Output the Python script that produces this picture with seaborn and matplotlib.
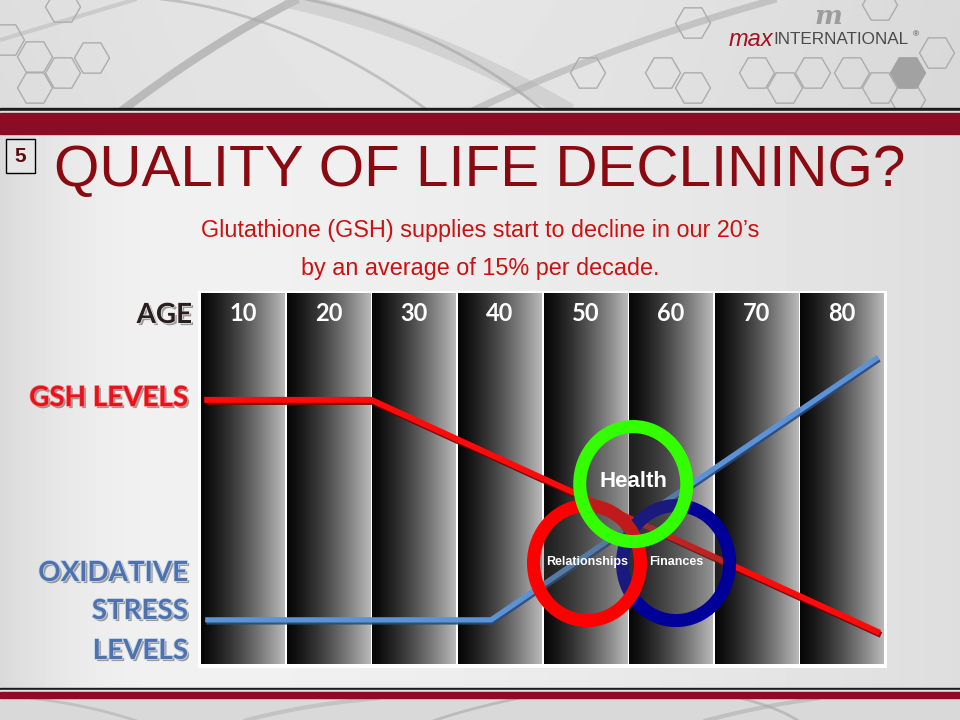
import numpy as np
import matplotlib.pyplot as plt
import seaborn as sns
import matplotlib.patheffects as pe
from matplotlib.patches import Ellipse, Rectangle, RegularPolygon

# data
decades = [10, 20, 30, 40, 50, 60, 70, 80]
gsh_age = [5.5, 25, 84.4]
gsh_level = [71.2, 71.2, 8.4]
oxid_age = [5.6, 39, 84.2]
oxid_level = [11.9, 11.9, 82.7]
ring_labels = ['Finances', 'Relationships', 'Health']
ring_age = [60.6, 50.2, 55.6]
ring_level = [27.2, 27.2, 48.5]

sns.set_theme(style='white')
plt.rcParams['font.family'] = ['Liberation Sans', 'DejaVu Sans']

fig = plt.figure(figsize=(9.6, 7.2), dpi=100)

# background layer in pixel coordinates
bg = fig.add_axes([0, 0, 1, 1])
bg.axis('off')
X, Y = np.meshgrid(np.linspace(0, 1, 240), np.linspace(0, 1, 180))
v = np.where(X < 0.18, 0.945 - 0.09 * ((0.18 - X) / 0.18) ** 2,
             0.945 - 0.075 * ((X - 0.18) / 0.82) ** 1.6)
bg.imshow(v, cmap='gray', vmin=0, vmax=1, extent=(0, 960, 720, 0),
          aspect='auto', interpolation='bilinear', zorder=0)
hv = 0.87 + 0.03 * np.sin(np.pi * X[:40] * 1.2) - 0.02 * Y[:40]
bg.imshow(hv, cmap='gray', vmin=0, vmax=1, extent=(0, 960, 108, 0),
          aspect='auto', interpolation='bilinear', zorder=0.5)
bg.add_patch(Rectangle((0, 698), 960, 22, color='#d9d9d9', zorder=0.5))

header_clip = Rectangle((0, 0), 960, 108, transform=bg.transData)
footer_clip = Rectangle((0, 698), 960, 22, transform=bg.transData)


def swoosh(p0, p1, p2, lw, color, alpha, clip):
    t = np.linspace(0, 1, 120)[:, None]
    pts = (1 - t) ** 2 * np.array(p0) + 2 * (1 - t) * t * np.array(p1) + t ** 2 * np.array(p2)
    ln, = bg.plot(pts[:, 0], pts[:, 1], lw=lw, color=color, alpha=alpha,
                  solid_capstyle='butt', zorder=1)
    ln.set_clip_path(clip)


swoosh((120, 112), (215, 40), (300, -2), 6, '#a0a0a0', 0.6, header_clip)
swoosh((150, -2), (290, 10), (430, 112), 2, '#a8a8a8', 0.6, header_clip)
swoosh((280, -2), (430, 30), (570, 112), 12, '#c0c0c0', 0.5, header_clip)
swoosh((300, -2), (440, 25), (545, 112), 2, '#999999', 0.5, header_clip)
swoosh((470, 112), (610, 45), (780, -2), 5, '#b0b0b0', 0.6, header_clip)
swoosh((0, 40), (60, 22), (140, -2), 3, '#bdbdbd', 0.6, header_clip)
swoosh((30, 698), (90, 705), (140, 722), 2, '#b0b0b0', 0.6, footer_clip)
swoosh((240, 722), (300, 705), (380, 698), 3, '#b5b5b5', 0.6, footer_clip)
swoosh((430, 722), (470, 708), (520, 698), 2, '#a8a8a8', 0.6, footer_clip)
swoosh((700, 722), (760, 706), (820, 698), 3, '#b0b0b0', 0.6, footer_clip)
swoosh((740, 698), (780, 708), (800, 722), 2, '#a8a8a8', 0.6, footer_clip)

hex_centers = [(63, 7), (35, 57), (92, 58), (63, 73), (35, 88), (7, 40),
               (693, 23), (588, 73), (663, 73), (693, 88), (757, 73), (785, 88),
               (813, 73), (852, 73), (880, 88), (937, 53), (908, 100), (880, 5)]
for cx, cy in hex_centers:
    h = RegularPolygon((cx, cy), 6, radius=17.5, orientation=np.pi / 6,
                       fill=False, edgecolor='#acacac', lw=1, zorder=1.5)
    bg.add_patch(h)
    h.set_clip_path(header_clip)
bg.add_patch(RegularPolygon((908, 73), 6, radius=17.5, orientation=np.pi / 6,
                            facecolor='#a2a2a2', edgecolor='#a2a2a2', zorder=1.6))

# logo
bg.text(828, 17, 'm', fontsize=19, family='DejaVu Serif', fontweight='bold',
        style='italic', color='#9c9c9c', ha='center', va='center', zorder=2)
bg.text(773, 40, 'max', fontsize=17, style='italic', color='#a3121f',
        ha='right', va='center', zorder=2)
bg.text(773, 40, 'INTERNATIONAL', fontsize=12.3, color='#4a4a4a',
        ha='left', va='center', zorder=2)
bg.text(913, 35, '®', fontsize=6, color='#4a4a4a', ha='left', va='center', zorder=2)

# bands
bg.add_patch(Rectangle((0, 108), 960, 3, color='#1c1c1c', zorder=2))
bg.add_patch(Rectangle((0, 111), 960, 2, color='#e0e0e0', zorder=2))
bg.add_patch(Rectangle((0, 113), 960, 21, color='#8c0b25', zorder=2))
bg.add_patch(Rectangle((0, 687.5), 960, 2.5, color='#1c1c1c', zorder=2))
bg.add_patch(Rectangle((0, 690), 960, 2, color='#e0e0e0', zorder=2))
bg.add_patch(Rectangle((0, 692), 960, 6, color='#8c0b25', zorder=2))

# title area
bg.add_patch(Rectangle((6, 139), 29, 34, facecolor='#e6e6e6', edgecolor='black', lw=1, zorder=2))
bg.text(20.5, 156.5, '5', fontsize=15, fontweight='bold', color='#5c0c0c',
        ha='center', va='center', zorder=3)
bg.text(480, 171, 'QUALITY OF LIFE DECLINING?', fontsize=42, color='#8b0a12',
        ha='center', va='center', zorder=3)
bg.text(480, 231, 'Glutathione (GSH) supplies start to decline in our 20’s',
        fontsize=16.8, color='#cc1111', ha='center', va='center', zorder=3)
bg.text(480, 268, 'by an average of 15% per decade.',
        fontsize=16.8, color='#cc1111', ha='center', va='center', zorder=3)

# row labels on the left
shadow = pe.SimplePatchShadow(offset=(1.5, -1.5), shadow_rgbFace='#555555', alpha=0.55)
lab_kw = dict(family=['Lato', 'DejaVu Sans'], fontweight='bold', fontsize=20,
              ha='right', va='center', zorder=3)
bg.text(192, 315, 'AGE', color='#2a1f1f',
        path_effects=[shadow, pe.Stroke(linewidth=1, foreground='#f0f0f0'), pe.Normal()], **lab_kw)
bg.text(188, 398, 'GSH LEVELS', color='#e3141e',
        path_effects=[shadow, pe.Stroke(linewidth=1, foreground='#ff8080'), pe.Normal()], **lab_kw)
for txt, yy in [('OXIDATIVE', 573), ('STRESS', 611), ('LEVELS', 651)]:
    bg.text(188, yy, txt, color='#4d72ad',
            path_effects=[shadow, pe.Stroke(linewidth=1.2, foreground='#c9d6ea'), pe.Normal()], **lab_kw)

bg.add_patch(Rectangle((198, 291), 689, 377, facecolor='white', edgecolor='none', zorder=2))
bg.set_xlim(0, 960)
bg.set_ylim(720, 0)

# chart
ax = fig.add_axes([200 / 960, 1 - 664 / 720, 685 / 960, 371 / 720])
ax.axis('off')
grad = 0.03 + 0.70 * np.linspace(0, 1, 256) ** 1.3
for d in decades:
    ax.imshow(grad[None, :], cmap='gray', vmin=0, vmax=1,
              extent=(d - 5 + 0.12, d + 5 - 0.12, 0, 100), aspect='auto', zorder=0)
    ax.text(d, 94.4, str(d), color='white', fontsize=17, fontweight='bold',
            family=['Lato', 'DejaVu Sans'], ha='center', va='center', zorder=5)

sns.lineplot(x=gsh_age, y=gsh_level, ax=ax, color='#ff0a0a', linewidth=4.3,
             solid_capstyle='butt', zorder=3,
             path_effects=[pe.SimpleLineShadow(offset=(0.8, -1.5), shadow_color='#7a0000', alpha=0.9),
                           pe.Normal()])
sns.lineplot(x=oxid_age, y=oxid_level, ax=ax, color='#5b93d6', linewidth=3.8,
             solid_capstyle='butt', zorder=3,
             path_effects=[pe.SimpleLineShadow(offset=(0.8, -1.5), shadow_color='#2b4a80', alpha=0.9),
                           pe.Normal()])

ring_colors = ['#000099', '#ff0000', '#33ff00']
ring_fs = [9, 9, 16]
for lab, a, lv, c, fs in zip(ring_labels, ring_age, ring_level, ring_colors, ring_fs):
    ax.add_patch(Ellipse((a, lv), 12.5, 31.0, fill=False, edgecolor=c, lw=9.4, zorder=4,
                         path_effects=[pe.SimplePatchShadow(offset=(2, -2), alpha=0.35), pe.Normal()]))
for lab, a, lv, fs in zip(ring_labels, ring_age, ring_level, ring_fs):
    ax.text(a, lv + (0.8 if lab == 'Health' else 0.3), lab, color='white', fontsize=fs,
            fontweight='bold', ha='center', va='center', zorder=6)

ax.set_xlim(5, 85)
ax.set_ylim(0, 100)

fig.savefig('out.png', dpi=100)
